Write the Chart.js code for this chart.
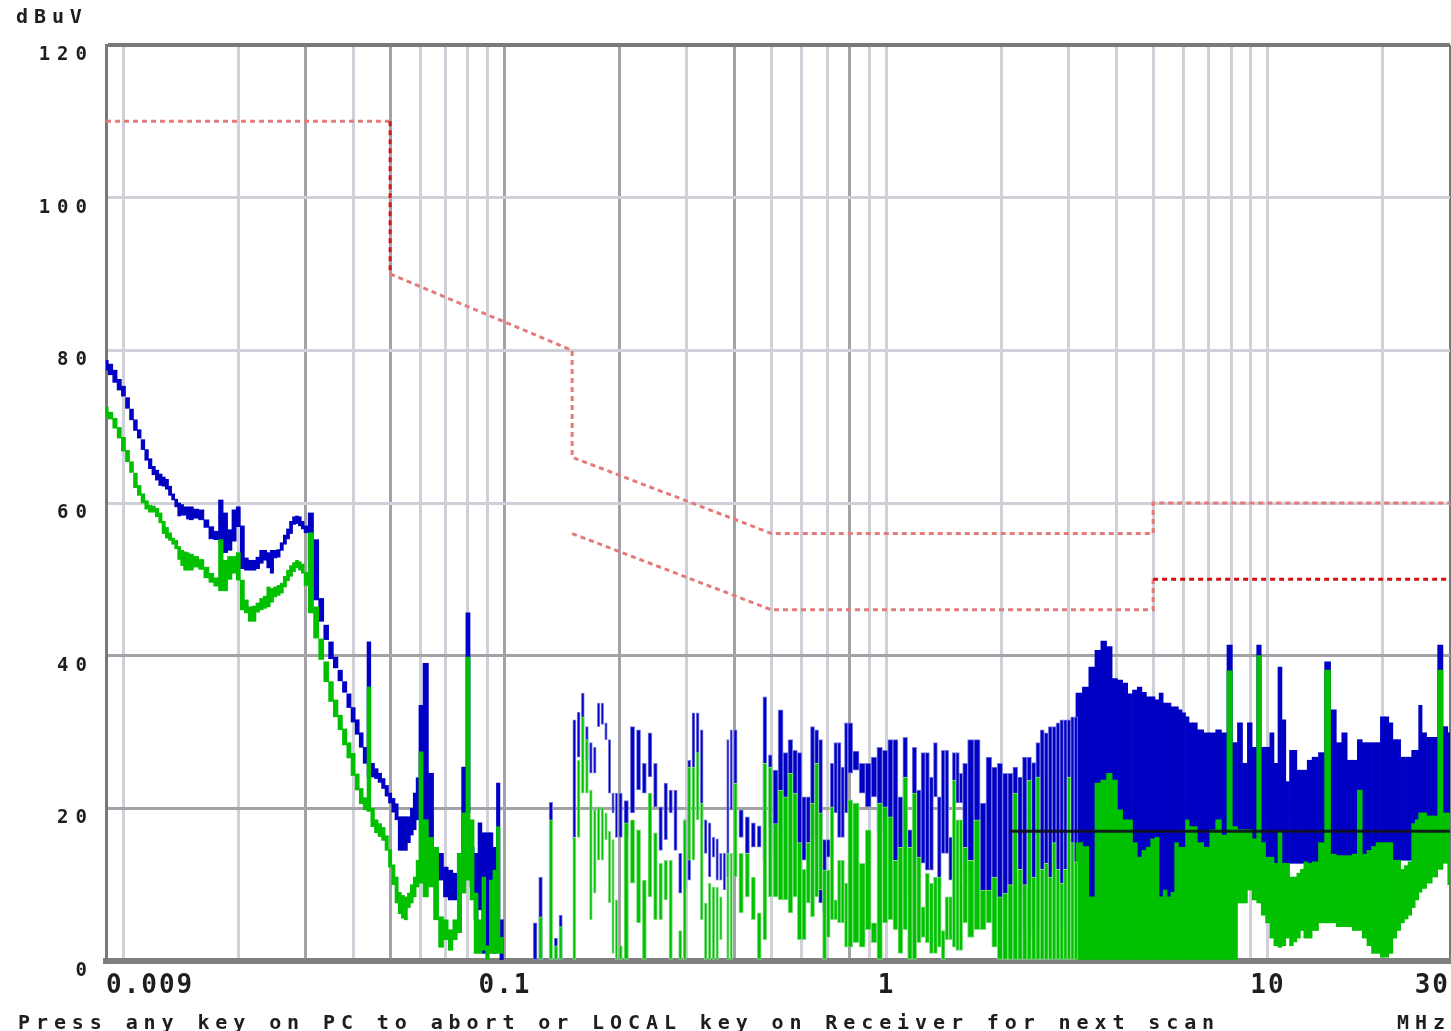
<!DOCTYPE html>
<html>
<head>
<meta charset="utf-8">
<title>EMI scan</title>
<script src="https://cdn.jsdelivr.net/npm/chart.js@4.4.1/dist/chart.umd.min.js"></script>
<style>
  html, body { margin: 0; padding: 0; background: #ffffff; }
  canvas { display: block; }
</style>
</head>
<body>
<canvas id="scan" width="1451" height="1031"></canvas>
<script>
// sweep frequencies in MHz (scan table steps)
const sweepFreq = [
  0.009, 0.00925, 0.0095, 0.00975, 0.01, 0.01025, 0.0105, 0.01075, 0.011, 0.01125, 0.0115, 0.01175,
  0.012, 0.01225, 0.0125, 0.01275, 0.013, 0.01325, 0.0135, 0.01375, 0.014, 0.01425, 0.0145, 0.01475,
  0.015, 0.0155, 0.016, 0.0165, 0.017, 0.0175, 0.018, 0.0185, 0.019, 0.0195, 0.02, 0.0205, 0.021, 0.0215, 0.022,
  0.0225, 0.023, 0.0235, 0.024, 0.0245, 0.025, 0.0255, 0.026, 0.0265, 0.027, 0.0275, 0.028, 0.0285, 0.029, 0.0295,
  0.03, 0.031, 0.032, 0.033, 0.034, 0.035, 0.036, 0.037, 0.038, 0.039, 0.04, 0.041, 0.042, 0.043, 0.044,
  0.045, 0.046, 0.047, 0.048, 0.049, 0.05, 0.051, 0.052, 0.053, 0.054, 0.055, 0.056, 0.057, 0.058, 0.059,
  0.06, 0.062, 0.064, 0.066, 0.068, 0.07, 0.072, 0.074, 0.076, 0.078, 0.08, 0.082, 0.084, 0.086, 0.088, 0.09,
  0.092, 0.094, 0.096, 0.098,
  0.1, 0.104, 0.108, 0.112, 0.116, 0.12, 0.124, 0.128, 0.132, 0.136, 0.14, 0.144, 0.148, 0.152, 0.156, 0.16,
  0.164, 0.168, 0.172, 0.176, 0.18, 0.184, 0.188, 0.192, 0.196,
  0.2, 0.208, 0.216, 0.224, 0.232, 0.24, 0.248, 0.256, 0.264, 0.272, 0.28, 0.288, 0.296, 0.304, 0.312, 0.32,
  0.328, 0.336, 0.344, 0.352, 0.36, 0.368, 0.376, 0.384, 0.392,
  0.4, 0.416, 0.432, 0.448, 0.464, 0.48, 0.496, 0.512, 0.528, 0.544, 0.56, 0.576, 0.592, 0.608, 0.624, 0.64,
  0.656, 0.672, 0.688, 0.704, 0.72, 0.736, 0.752, 0.768, 0.784,
  0.8, 0.832, 0.864, 0.896, 0.928, 0.96, 0.992, 1.024, 1.056, 1.088, 1.12, 1.152, 1.184, 1.216, 1.248, 1.28,
  1.312, 1.344, 1.376, 1.408, 1.44, 1.472, 1.504, 1.536, 1.568,
  1.6, 1.664, 1.728, 1.792, 1.856, 1.92, 1.984, 2.048, 2.112, 2.176, 2.24, 2.304, 2.368, 2.432, 2.496, 2.56,
  2.624, 2.688, 2.752, 2.816, 2.88, 2.944, 3.008, 3.072, 3.136,
  3.2, 3.328, 3.456, 3.584, 3.712, 3.84, 3.968, 4.096, 4.224, 4.352, 4.48, 4.608, 4.736, 4.864, 4.992, 5.12,
  5.248, 5.376, 5.504, 5.632, 5.76, 5.888, 6.016, 6.144, 6.272,
  6.4, 6.656, 6.912, 7.168, 7.424, 7.68, 7.936, 8.192, 8.448, 8.704, 8.96, 9.216, 9.472, 9.728, 9.984, 10.24,
  10.496, 10.752, 11.008, 11.264, 11.52, 11.776, 12.032, 12.288, 12.544,
  12.8, 13.312, 13.824, 14.336, 14.848, 15.36, 15.872, 16.384, 16.896, 17.408, 17.92, 18.432, 18.944, 19.456,
  19.968, 20.48, 20.992, 21.504, 22.016, 22.528, 23.04, 23.552, 24.064, 24.576, 25.088,
  25.6, 26.5, 27.4, 28.3, 29.2, 30
];

// blue trace (peak), max / min level per sweep bin, dBuV
const blueMax = [
  78.7, 78.2, 77.4, 76.2, 75.3, 73.8, 72.3, 70.9, 69.6, 68.3, 67.0, 65.8, 64.8, 64.3, 63.8, 63.4, 63.1, 62.2, 61.2, 60.5, 60.0, 59.8, 59.5, 59.5,
  59.5, 59.2, 59.1, 57.8, 56.9, 56.3, 60.4, 58.7, 56.5, 59.1, 59.5, 57.0, 52.8, 52.5, 52.5, 52.9, 53.8, 53.8, 53.5, 53.8, 53.8, 53.9, 54.8, 55.8, 56.6, 57.6, 58.2, 58.3, 58.2, 57.6,
  57.0, 58.7, 55.2, 47.5, 44.0, 41.8, 39.8, 38.1, 36.6, 35.0, 33.2, 31.6, 29.9, 28.0, 41.8, 25.9, 25.2, 24.6, 23.9, 23.0, 22.0, 21.3, 20.6, 18.9, 18.9, 18.9, 18.9, 20.0, 22.0, 24.0,
  33.5, 39.0, 24.6, 14.5, 14.1, 12.3, 11.9, 11.5, 14.1, 25.4, 45.6, 14.9, 14.1, 18.1, 16.8, 16.8, 16.8, 14.9, 23.3, 5.4,
  null, null, null, null, null, 5, 11, null, 20.8, 3, 6, null, null, 31.6, 32.6, 35.1, 30.7, 28.6, 28.0, 33.8, 33.8, 31.2, 29.0, 22.0, 22.0,
  22, 21, 30.7, 30.3, 25.9, 29.9, 25.9, 20.2, 23.3, 22.4, 22.4, 14.1, 18.5, 26.3, 32.5, 32.5, 30.3, 18.5, 18.1, 16.2, 16, 14.1, 14.1, 29, 30.3,
  30.3, 19.8, 18.9, 18.1, 17.7, 34.6, 27, 25, 32.9, 27.3, 29, 27.6, 27.3, 21.5, 21.5, 30.7, 30.3, 29, 15.9, 15.9, 25.9, 28.6, 28.6, 25.4, 31.2,
  31.2, 27.5, 25.9, 25.9, 26.7, 28, 27.6, 29, 29, 21.5, 29.3, 17.2, 28, 22.4, 27.3, 27.3, 24.1, 28.6, 21.5, 27.6, 27.6, 16.2, 27.3, 27.3, 24.6,
  25.9, 29, 29, 20.7, 26.7, 25.4, 25.9, 24.6, 24.6, 25.4, 24.1, 26.7, 26.7, 26, 28.6, 30.3, 29.9, 30.7, 30.7, 31.2, 31.6, 31.6, 31.6, 32, 32,
  35.1, 35.9, 38.5, 40.7, 41.9, 41.2, 37, 36.8, 36.4, 35, 35.5, 35.9, 35.2, 34.6, 34.6, 34.2, 35.1, 33.8, 33.8, 33.3, 33.3, 32.9, 32.5, 32, 31.2,
  31.2, 30.3, 29.9, 29.9, 30.3, 29.9, 41.4, 28.6, 31.2, 25.9, 31.2, 28, 41.4, 28, 28, 29.9, 25.9, 38.5, 31.6, 23.5, 27.6, 27.6, 25, 25, 25,
  26.3, 26.7, 27.3, 39.2, 32.9, 28.6, 29.9, 26.3, 26.3, 29, 28.6, 28.6, 28.6, 28.6, 32, 32, 31.2, 29, 29, 26.7, 26.7, 26.7, 27.6, 27.6, 33.5,
  29.9, 29.3, 29.3, 41.4, 30.7, 29.9
];
const blueMin = [
  77.4, 76.8, 75.8, 74.8, 74.0, 72.4, 70.9, 69.5, 68.5, 67.0, 65.6, 64.5, 63.7, 63.0, 62.3, 62.2, 61.8, 61.0, 60.4, 59.5, 58.3, 58.4, 58.4, 57.9,
  57.8, 58.0, 57.8, 56.8, 55.3, 55.2, 54.8, 53.5, 53.8, 55.0, 56.9, 51.4, 51.2, 51.2, 51.2, 51.4, 52.1, 52.5, 51.5, 50.8, 52.8, 52.9, 53.8, 54.6, 55.3, 56.0, 57.2, 57.3, 57.0, 56.6,
  56.1, 52.5, 47.3, 44.5, 42.1, 39.6, 38.4, 36.7, 35.2, 33.2, 31.3, 29.7, 28.0, 25.9, 24.1, 24.1, 23.9, 23.4, 22.6, 21.6, 20.7, 19.5, 18.5, 14.5, 14.5, 14.5, 15.5, 16.5, 17.2, 18.5,
  18.5, 16.8, 14.1, 12.3, 10.6, 8.4, 8.0, 8.0, 8.4, 14.1, 19.4, 9.7, 5.4, 6.7, 1.0, 1.0, 1.8, 1.0, 2.8, 0,
  null, null, null, null, null, 0, 0, null, 0, 0, 0, null, null, 16, 26.7, 30.7, 26.3, 24.6, 24.6, 30.7, 31.0, 29.0, 22.0, 19.4, 16.2,
  16.2, 16.2, 19.4, 22.4, 22, 24.1, 20.2, 14.5, 15.9, 19.4, 14.5, 8.9, 9.7, 10.6, 18.5, 24.1, 17.7, 14.1, 11, 13.6, 10.6, 10.6, 9.3, 11, 19.8,
  19.8, 16.2, 14.1, 14.9, 14.9, 13.2, 17.6, 14.1, 15.5, 14.5, 15.5, 13.2, 13.2, 13.2, 15.5, 16.2, 16.2, 7.6, 6.3, 13.6, 15.9, 19.4, 16.2, 16.2, 19.4,
  24.6, 25, 22, 20.2, 21.5, 16.8, 17.2, 16.8, 11.9, 11.9, 15.5, 8.4, 21.5, 11.9, 12.8, 11.9, 11.9, 21.5, 9.7, 14.1, 14.1, 10.6, 18.9, 20.7, 20.7,
  10, 12, 8, 8, 8, 5, 4, 4, 3, 3, 8.4, 4.1, 3, 4.1, 5, 0, 4.1, 4.1, 3, 3, 4.1, 4.1, 5.8, 4.1, 4.1,
  5, 4.1, 4.1, 4.1, 18.9, 8.4, 8.4, 15.9, 12.8, 8.4, 8.4, 12.8, 8.4, 8.4, 6.3, 9.3, 8.4, 6.3, 6.3, 8.4, 8, 7.1, 7.1, 9.3, 9.3,
  9.3, 6.3, 9.3, 13.2, 8.4, 10.2, 10.2, 9.7, 11, 11, 11, 11, 11, 12, 12, 12.8, 12.8, 12.8, 12.8, 12.8, 12.8, 12.8, 12.8, 12.8, 12.8,
  12.8, 12.8, 13, 13, 13, 12.8, 12.8, 12.8, 12.8, 12.8, 12.8, 12.8, 12, 12, 12, 12, 12, 13, 13, 13.2, 13.2, 13.2, 14, 14, 15,
  15, 15, 16, 17, 17, 17
];

// green trace (average), max / min level per sweep bin, dBuV
const greenMax = [
  72.6, 71.9, 71.1, 69.9, 68.6, 66.9, 65.4, 63.9, 62.3, 61.2, 60.3, 59.7, 59.6, 59.3, 58.7, 57.6, 56.8, 56.1, 55.4, 55.1, 54.3, 53.8, 53.6, 53.5,
  53.3, 53.0, 52.6, 51.6, 50.8, 50.2, 55.2, 52.5, 53.0, 53.0, 53.5, 49.9, 47.3, 46.4, 46.5, 46.9, 47.5, 47.8, 49.0, 48.8, 49.0, 49.2, 49.5, 50.4, 51.2, 51.8, 52.2, 52.5, 52.3, 52.0,
  50.9, 56.1, 46.4, 42.2, 39.2, 36.6, 34.2, 32.2, 30.4, 28.6, 27.2, 24.5, 22.6, 21.4, 35.9, 20.0, 18.5, 18.0, 17.5, 16.4, 14.6, 12.6, 11.0, 9.0, 8.6, 8.4, 8.9, 10.0, 11.0, 13.2,
  27.4, 18.5, 16.2, 14.9, 5.8, 5.4, 4.1, 5.4, 14.1, 19.4, 39.8, 18.5, 8.9, 5.4, 11.0, 2.0, 10.6, 11.9, 17.6, 3.1,
  null, null, null, null, null, null, 5.8, null, 18.5, 2, 4.5, null, null, 16.2, 26.3, 32, 29, 22.4, 19.8, 20.2, 20.2, 19.4, 17, 15.9, 8,
  2, 18.1, 18.5, 17.2, 10.6, 22, 16.8, 12.8, 13.2, 13.2, null, 4, 18.5, 25.4, 25.4, 27.3, 20.7, 7.6, 10.2, 9.7, 9.7, 8.4, null, 14.1, 14.1,
  23.3, 14.1, 14.1, 11, 6.3, 25.9, 25.4, 18, 22.4, 21.5, 24.6, 22, 15.5, 12, 15.5, 20.7, 25.9, 19.4, 11.9, 11.9, 20.2, 8, 13.2, 13.2, 10.2,
  21.1, 20.7, 12.8, 17.2, 5, 20.7, 20.2, 18.9, 13.2, 14.9, 24.1, 14.9, 22, 13.6, 7.1, 11.5, 10.2, 11, 11, 4, 8.4, 8.4, 23.7, 18.5, 18.5,
  14.9, 13.2, 18.5, 9.3, 9.3, 11, 8.4, 8.9, 10, 22, 12, 10, 23.7, 11, 24.1, 12, 12.8, 11, 15.5, 12, 10.2, 12, 24.1, 15.5, 13,
  15.5, 15, 8.4, 23.3, 23.7, 24.6, 23.7, 19.8, 18.5, 18.5, 15.5, 13.6, 14.5, 14.9, 16, 16.2, 8.4, 9.3, 8.4, 9, 15.5, 14.9, 14.9, 18.5, 17.6,
  17.6, 15.5, 14.9, 17.2, 18.5, 16.5, 38, 17.6, 17.2, 17.2, 17.2, 16, 40, 15.5, 13.6, 13.6, 12.8, 17, 12.8, 12.8, 11, 11, 11.5, 12, 13,
  12.8, 13, 15.5, 38.1, 14, 13.8, 13.8, 13.8, 14, 22.4, 14, 14.5, 15, 15.5, 15.5, 15.5, 15.5, 13.2, 13.2, 12, 12.5, 13, 18, 18.5, 19.4,
  19.4, 19, 19, 38.1, 19.4, 19.4
];
const greenMin = [
  71.3, 71.0, 69.8, 68.5, 66.8, 65.4, 64.0, 62.0, 61.0, 60.0, 59.2, 58.8, 58.8, 58.2, 57.4, 56.0, 55.4, 55.1, 54.6, 54.0, 52.6, 51.8, 51.2, 51.2,
  51.2, 51.6, 51.3, 50.2, 49.6, 49.1, 48.5, 48.5, 50.0, 50.8, 49.9, 46.0, 45.6, 44.5, 44.5, 45.7, 46.0, 46.2, 46.4, 47.0, 47.7, 47.9, 48.2, 49.0, 49.8, 50.4, 51.0, 51.5, 51.2, 50.8,
  49.2, 45.6, 42.3, 39.5, 36.6, 34.0, 32.0, 30.3, 28.3, 26.6, 24.3, 22.4, 20.6, 19.8, 19.6, 17.6, 16.8, 16.3, 15.8, 14.5, 12.3, 10.0, 7.6, 6.2, 5.6, 5.4, 7.0, 7.6, 8.4, 9.7,
  10.2, 8.4, 9.7, 5.4, 1.8, 2.8, 1.4, 2.8, 3.7, 8.9, 10.6, 8.0, 1.0, 1.0, 1.4, 0, 1.0, 1.0, 1.0, 1.0,
  null, null, null, null, null, null, 0, null, 0, 0, 0, null, null, 0, 16.2, 22, 22, 5.4, 8.9, 13.2, 13.2, 15.9, 7.6, 1, 0,
  0, 0, 10.2, 5, 0, 8.4, 5.4, 5.4, 8, 0, null, 0, 0, 13.2, 13.2, 18.5, 5.4, 0, 0, 0, 0, 2.8, null, 0, 0,
  11, 6.3, 8.4, 5.4, 0, 2.8, 8.4, 8.4, 8, 8, 6.3, 8.4, 2.8, 2.8, 7.6, 5.8, 8.4, 9.3, 0, 3.1, 5.4, 5.4, 5, 5, 1.8,
  1.8, 2.4, 1.8, 4.1, 2.4, 0, 5, 5.4, 4.1, 1, 4.1, 0, 0, 2.4, 3.1, 2.4, 1, 1, 1.8, 0, 2.8, 2.8, 1.8, 1.4, 1.4,
  5, 3.1, 4.1, 4.1, 5, 1.8, 0, 0, 0, 0, 0, 0, 0, 0, 0, 0, 0, 0, 0, 0, 0, 0, 0, 0, 0,
  0, 0, 0, 0, 0, 0, 0, 0, 0, 0, 0, 0, 0, 0, 0, 0, 0, 0, 0, 0, 0, 0, 0, 0, 0,
  0, 0, 0, 0, 0, 0, 0, 0, 7.6, 7.6, 9.3, 8, 7.6, 6, 5, 3, 2, 1.8, 2, 3, 2, 2.5, 3, 4, 3,
  3, 4, 5, 5, 5, 4.5, 4.5, 4.5, 4, 4, 3, 2, 1, 1, 0.5, 0.5, 1, 3, 4, 5, 5.5, 6, 7, 8, 9,
  9.5, 10.2, 11, 12, 12.8, 10
];

// limit lines
const qpFreq = [0.009, 0.05, 0.05, 0.15, 0.15, 0.5, 5, 5, 30];
const qpLevel = [110, 110, 90, 80, 66, 56, 56, 60, 60];
const avFreq = [0.15, 0.5, 5, 5, 30];
const avLevel = [56, 46, 46, 50, 50];
const thresholdFreq = [2.1, 30];
const thresholdLevel = [17, 17];

// axes
const xGridValues = [0.009, 0.01, 0.02, 0.03, 0.04, 0.05, 0.06, 0.07, 0.08, 0.09,
  0.1, 0.2, 0.3, 0.4, 0.5, 0.6, 0.7, 0.8, 0.9, 1, 2, 3, 4, 5, 6, 7, 8, 9, 10, 20, 30];
const xDarkGrid = [0.03, 0.05, 0.1, 0.2, 0.4, 0.8];
const xLabelValues = [0.009, 0.1, 1, 10, 30];
const xLabels = ['0.009', '0.1', '1', '10', '30'];
const yTickValues = [0, 20, 40, 60, 80, 100, 120];
const yDarkGrid = [20, 40];

const unitLabel = 'dBuV';
const freqUnit = 'MHz';
const statusLine = 'Press any key on PC to abort or LOCAL key on Receiver for next scan';

const LIGHT_GRID = '#cfd0d8';
const DARK_GRID = '#a3a3a7';
const FRAME = '#7a7a7a';
const MONO = "'DejaVu Sans Mono', monospace";

// trace drawing bands: [from MHz, to MHz, bar fill of the bin, light edge width]
const traceBands = [[0.009, 0.1, 1, 0], [0.1, 0.5, 0.7, 1], [0.5, 3.2, 1, 1], [3.2, 31, 1, 0]];

function bars(maxArr, minArr, lo, hi) {
  const out = [];
  sweepFreq.forEach((f, i) => {
    if (f < lo || f >= hi) return;
    out.push(maxArr[i] == null ? { x: f, y: null } : { x: f, y: [minArr[i], maxArr[i]] });
  });
  return out;
}
function points(fs, ls) {
  return fs.map((f, i) => ({ x: f, y: ls[i] }));
}

// wider letter spacing for the tick labels, like the receiver's screen font
const spacingPlugin = {
  id: 'spacing',
  beforeDraw(chart) {
    [['x', '2px'], ['y', '7px']].forEach(([id, sp]) => {
      const s = chart.scales[id];
      if (s && !s.__spaced) {
        const orig = s.drawLabels;
        s.drawLabels = function (area) {
          const c = this.ctx;
          const prev = c.letterSpacing;
          c.letterSpacing = sp;
          orig.call(this, area);
          c.letterSpacing = prev;
        };
        s.__spaced = true;
      }
    });
  }
};

const screenText = {
  id: 'screenText',
  afterDraw(chart) {
    const c = chart.ctx;
    c.save();
    c.fillStyle = '#1e1e1e';
    c.font = 'bold 20px ' + MONO;
    c.letterSpacing = '5.9px';
    c.textBaseline = 'alphabetic';
    c.textAlign = 'left';
    c.fillText(unitLabel, 16, 23);
    c.fillText(statusLine, 18, 1029);
    c.fillText(freqUnit, 1397, 1029);
    c.restore();
  }
};

// both traces share one bar slot so they overlay instead of sitting side by side
function traceSets(label, maxArr, minArr, color, edge, order) {
  return traceBands.map(([lo, hi, pct, bw]) => ({
    type: 'bar',
    label: label,
    data: bars(maxArr, minArr, lo, hi),
    backgroundColor: color,
    borderColor: edge,
    borderWidth: bw,
    borderSkipped: false,
    stack: 'trace',
    barPercentage: pct,
    categoryPercentage: 1,
    barThickness: 'flex',
    clip: 0,
    order: order
  }));
}

new Chart(document.getElementById('scan'), {
  type: 'bar',
  data: {
    datasets: [
      {
        type: 'line',
        label: 'threshold',
        data: points(thresholdFreq, thresholdLevel),
        borderColor: 'rgba(16,16,26,0.9)',
        borderWidth: 3,
        pointRadius: 0,
        order: 0
      },
      {
        type: 'line',
        label: 'QP limit',
        data: points(qpFreq, qpLevel),
        borderColor: '#e47a7a',
        borderWidth: 3,
        borderDash: [5, 4],
        pointRadius: 0,
        order: 1,
        segment: { borderColor: s => (s.p0DataIndex === 1 ? '#d01818' : undefined) }
      },
      {
        type: 'line',
        label: 'AV limit',
        data: points(avFreq, avLevel),
        borderColor: '#e47a7a',
        borderWidth: 3,
        borderDash: [5, 4],
        pointRadius: 0,
        order: 1,
        segment: { borderColor: s => (s.p0DataIndex === 3 ? '#d01010' : undefined) }
      },
      ...traceSets('AV', greenMax, greenMin, '#00c000', '#7fdf7f', 2),
      ...traceSets('PK', blueMax, blueMin, '#0000c4', '#7b7be2', 3)
    ]
  },
  options: {
    responsive: false,
    animation: false,
    devicePixelRatio: 1,
    layout: { padding: { top: 45, right: 1, bottom: 0, left: 0 } },
    plugins: { legend: { display: false }, tooltip: { enabled: false } },
    scales: {
      x: {
        type: 'logarithmic',
        min: 0.009,
        max: 30,
        offset: false,
        afterBuildTicks: s => { s.ticks = xGridValues.map(v => ({ value: v })); },
        afterFit: s => { s.height = 70; s.paddingLeft = 0; s.paddingRight = 0; },
        grid: {
          offset: false,
          drawTicks: false,
          lineWidth: 3,
          color: c => {
            const v = c.tick ? c.tick.value : null;
            if (v === 0.009) return 'rgba(0,0,0,0)';
            if (v === 30) return FRAME;
            return xDarkGrid.includes(v) ? DARK_GRID : LIGHT_GRID;
          }
        },
        border: { color: '#7f7f7f', width: 6 },
        ticks: {
          autoSkip: false,
          maxRotation: 0,
          align: 'inner',
          padding: 10,
          color: '#1e1e1e',
          font: { family: MONO, size: 26, weight: 'bold' },
          callback: v => {
            const k = xLabelValues.indexOf(v);
            return k >= 0 ? xLabels[k] : '';
          }
        }
      },
      y: {
        min: 0,
        max: 120,
        stacked: false,
        afterBuildTicks: s => { s.ticks = yTickValues.map(v => ({ value: v })); },
        afterFit: s => { s.width = 106; s.paddingTop = 0; s.paddingBottom = 0; },
        grid: {
          drawTicks: false,
          lineWidth: c => (c.tick && c.tick.value === 120 ? 4 : 3),
          color: c => {
            const v = c.tick ? c.tick.value : null;
            if (v === 0) return 'rgba(0,0,0,0)';
            if (v === 120) return FRAME;
            return yDarkGrid.includes(v) ? DARK_GRID : LIGHT_GRID;
          }
        },
        border: { color: '#787878', width: 3 },
        ticks: {
          padding: 12,
          labelOffset: 10,
          color: '#1e1e1e',
          font: { family: MONO, size: 19, weight: 'bold' },
          callback: v => String(v)
        }
      }
    }
  },
  plugins: [spacingPlugin, screenText]
});
</script>
</body>
</html>
